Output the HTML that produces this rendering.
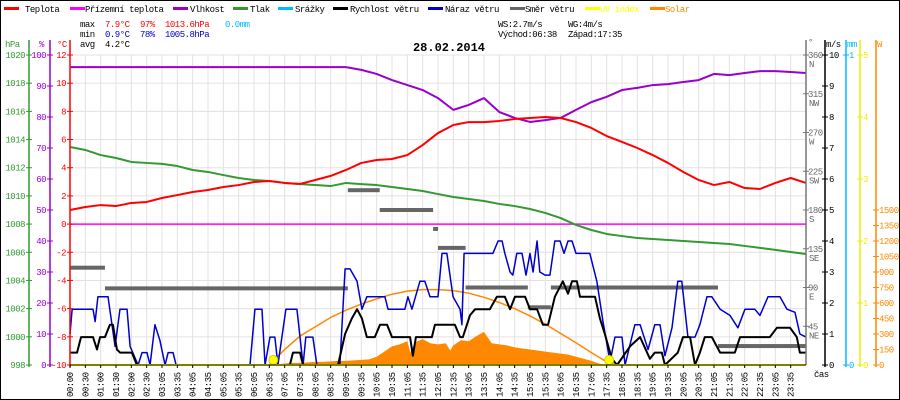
<!DOCTYPE html>
<html><head><meta charset="utf-8"><style>
html,body{margin:0;padding:0;background:#fff;}
svg{display:block;font-family:"Liberation Mono",monospace;font-size:9px;letter-spacing:-0.5px;}
</style></head><body>
<svg id="chart" width="900" height="400" viewBox="0 0 900 400" xmlns="http://www.w3.org/2000/svg">
<rect x="0.5" y="0.5" width="899" height="399" fill="#fff" stroke="#000"/>
<g id="grid"></g>
<g id="plot"></g>
<g id="axes"></g>
<g id="head">
<g>
<rect x="4" y="7" width="15" height="3" fill="#f00"/><text x="25" y="12" fill="#000">Teplota</text>
<rect x="70" y="7" width="15" height="3" fill="#f0f"/><text x="85" y="12">Přízemní teplota</text>
<rect x="173" y="7" width="15" height="3" fill="#90c"/><text x="190" y="12">Vlhkost</text>
<rect x="233" y="7" width="15" height="3" fill="#393"/><text x="250" y="12">Tlak</text>
<rect x="278" y="7" width="15" height="3" fill="#0bf"/><text x="295" y="12">Srážky</text>
<rect x="333" y="7" width="15" height="3" fill="#000"/><text x="350" y="12">Rychlost větru</text>
<rect x="428" y="7" width="15" height="3" fill="#00c"/><text x="445" y="12">Náraz větru</text>
<rect x="510" y="7" width="15" height="3" fill="#666"/><text x="525" y="12">Směr větru</text>
<rect x="585" y="7" width="15" height="3" fill="#ff0"/><text x="600" y="12" fill="#ff0">UV index</text>
<rect x="650" y="7" width="15" height="3" fill="#f80"/><text x="665" y="12" fill="#f80">Solar</text>
</g>
<g>
<text x="80" y="27">max</text><text x="105" y="27" fill="#f00">7.9°C</text><text x="140" y="27" fill="#f00">97%</text><text x="165" y="27" fill="#f00">1013.6hPa</text><text x="225" y="27" fill="#0bf">0.0mm</text>
<text x="80" y="37">min</text><text x="105" y="37" fill="#00c">0.9°C</text><text x="140" y="37" fill="#00c">78%</text><text x="165" y="37" fill="#00c">1005.8hPa</text>
<text x="80" y="47">avg</text><text x="105" y="47">4.2°C</text>
<text x="498" y="27">WS:2.7m/s</text><text x="568" y="27">WG:4m/s</text>
<text x="498" y="37">Východ:06:38</text><text x="568" y="37">Západ:17:35</text>
</g>
<text x="449" y="51" text-anchor="middle" font-weight="bold" font-size="12" style="letter-spacing:0">28.02.2014</text>
</g>
</svg>
<script>
// ---- data ----
const halfHourLabels = ["00:00","00:30","01:00","01:30","02:00","02:30","03:05","03:35","04:05","04:35","05:05","05:35","06:05","06:35","07:05","07:35","08:05","08:35","09:05","09:35","10:05","10:35","11:05","11:35","12:05","12:35","13:05","13:35","14:05","14:35","15:05","15:35","16:05","16:35","17:05","17:35","18:05","18:35","19:05","19:35","20:05","20:35","21:05","21:35","22:05","22:35","23:05","23:35"];
const tempValues = [1.0,1.21,1.35,1.28,1.5,1.57,1.85,2.06,2.28,2.42,2.63,2.77,2.99,3.06,2.92,2.85,3.13,3.42,3.84,4.34,4.55,4.62,4.9,5.61,6.46,7.03,7.24,7.24,7.32,7.46,7.53,7.6,7.53,7.24,6.82,6.25,5.83,5.4,4.9,4.34,3.7,3.13,2.77,2.99,2.56,2.49,2.92,3.27,2.92];
const feelsValues = [0,0,0,0,0,0,0,0,0,0,0,0,0,0,0,0,0,0,0,0,0,0,0,0,0,0,0,0,0,0,0,0,0,0,0,0,0,0,0,0,0,0,0,0,0,0,0,0,0];
const humidityValues = [96.1,96.1,96.1,96.1,96.1,96.1,96.1,96.1,96.1,96.1,96.1,96.1,96.1,96.1,96.1,96.1,96.1,96.1,96.1,95.2,93.9,91.9,90.3,88.7,86.1,82.3,83.9,86.1,81.6,79.7,78.4,79,79.7,82.3,84.8,86.5,88.7,89.4,90.3,90.6,91.3,91.9,93.9,93.5,94.2,94.8,94.8,94.5,94.2];
const pressureValues = [1013.47,1013.26,1012.9,1012.69,1012.41,1012.34,1012.27,1012.12,1011.84,1011.7,1011.48,1011.27,1011.13,1011.06,1010.92,1010.84,1010.77,1010.7,1010.92,1010.84,1010.77,1010.63,1010.49,1010.35,1010.13,1009.92,1009.78,1009.64,1009.43,1009.28,1009.07,1008.79,1008.43,1007.94,1007.58,1007.3,1007.15,1007.01,1006.94,1006.87,1006.8,1006.73,1006.66,1006.59,1006.45,1006.31,1006.17,1006.02,1005.88];
const gustTimes = [0,0.07,0.75,0.82,0.91,1.24,1.47,1.63,1.86,1.96,2.22,2.35,2.51,2.61,2.77,2.93,3.10,3.20,3.36,3.46,5.87,6.03,6.26,6.36,6.52,6.68,6.78,7.04,7.40,7.60,7.69,7.92,8.05,8.80,8.97,9.13,9.36,9.52,9.68,10.27,10.37,10.92,11.02,11.15,11.41,11.57,11.74,12.00,12.13,12.29,12.49,12.72,12.78,12.85,13.79,13.96,14.09,14.18,14.35,14.44,14.57,14.74,14.87,15.00,15.10,15.23,15.32,15.49,15.65,15.81,15.98,16.11,16.24,16.37,16.50,16.95,17.18,17.38,17.61,17.77,18.00,18.10,18.42,18.59,18.85,19.07,19.24,19.40,19.63,19.82,19.95,20.15,20.38,20.54,20.77,20.93,21.20,21.52,21.78,22.01,22.33,22.50,22.76,23.15,23.38,23.64,23.80,24];
const gustValues = [1.0,1.8,1.8,1.4,2.2,2.2,0.6,1.8,1.8,0.6,0,0.4,0.4,0,1.3,0.8,0,0.4,0.4,0,0,1.8,1.8,0,0.9,0.9,0,1.8,1.8,0,0.9,0.9,0,0,3.1,3.1,2.7,1.8,2.2,2.2,1.8,1.8,2.2,1.8,2.7,2.7,2.2,2.2,3.6,3.6,2.2,1.8,1.3,3.6,3.6,4.0,4.0,3.6,3.0,2.9,3.6,3.6,2.9,3.6,3.0,4.0,3.0,2.9,2.9,4.0,4.0,3.6,4.0,4.0,3.6,3.6,2.7,1.4,0.1,0.9,0.9,0,1.3,1.3,0.5,1.3,1.3,0.3,1.2,2.7,2.7,0.9,0.9,1.3,2.2,2.2,1.8,1.6,1.2,1.8,1.8,1.6,2.2,2.2,1.8,1.7,1.0,0.9];
const speedTimes = [0,0.23,0.36,0.75,0.88,0.98,1.14,1.30,1.40,1.53,1.63,2.02,2.18,7.17,7.27,7.50,7.60,8.74,8.97,9.19,9.36,9.52,9.68,9.94,10.11,10.34,10.50,11.09,11.18,11.28,11.80,11.90,12.55,12.72,12.81,12.91,13.04,13.21,13.69,13.92,14.18,14.35,14.51,14.84,15.00,15.23,15.42,15.59,15.81,16.07,16.24,16.37,16.53,16.63,17.12,17.28,17.44,17.67,17.84,18.26,18.59,18.91,19.07,19.30,19.40,19.82,19.99,20.22,20.38,20.54,20.70,20.93,21.20,21.68,21.85,22.82,23.05,23.48,23.70,23.80,24];
const speedValues = [0.4,0.4,0.9,0.9,0.5,0.9,0.9,1.3,1.3,0.5,0.4,0.4,0,0,0.4,0.4,0,0,1.0,1.5,1.8,1.5,0.9,0.9,1.3,1.3,0.9,0.9,0.3,0.9,0.9,1.3,1.3,0.9,0.9,1.2,1.6,1.8,1.8,2.2,2.2,1.8,2.2,2.2,1.8,1.8,1.3,1.3,2.2,2.7,2.3,2.7,2.7,2.2,2.2,1.5,1.0,0.2,0,0.6,0.9,0.2,0.4,0.4,0,0.4,0.9,0.9,0,0.4,0.9,0.9,0.4,0.4,0.9,0.9,1.2,1.2,0.9,0.4,0.4];
const dirStarts = [0,1.14,9.06,10.1,11.84,12.0,12.9,14.93,15.68,21.13];
const dirEnds = [1.14,9.06,10.1,11.84,12.0,12.9,14.93,15.68,21.13,24];
const dirValues = [113,89,203,180,158,136,90,67,90,22];
const solarTimes = [6.5,6.75,7.0,7.25,7.5,7.75,8.0,8.25,8.5,8.75,9.0,9.25,9.5,9.75,10.0,10.25,10.5,10.75,11.0,11.1,11.25,11.5,11.75,12.0,12.25,12.4,12.5,12.75,13.0,13.25,13.5,13.75,14.0,14.25,14.5,14.75,15.0,15.25,15.5,15.75,16.0,16.25,16.5,16.75,17.0,17.25,17.5];
const solarValues = [0,5,15,20,20,25,30,30,35,40,40,45,50,55,80,130,180,200,230,120,220,250,210,200,210,140,190,240,230,280,320,210,200,190,170,160,150,140,130,120,110,100,80,60,40,15,0];
const solarMaxTimes = [6.5,7.0,7.5,8.0,8.5,9.0,9.5,10.0,10.5,11.0,11.5,12.0,12.5,13.0,13.5,14.0,14.5,15.0,15.5,16.0,16.5,17.0,17.5,17.8];
const solarMaxValues = [0,150,280,370,460,530,590,640,685,715,730,730,720,695,655,605,545,475,395,305,215,120,30,0];
const sunEvents = [6.63,17.58];
const uvValues = [0,0];

// ---- axes functions ----
const X0=70, X1=806, YT=55, YB=365;
const xT = t => X0 + t*(X1-X0)/24;
const yTemp = v => YT + (12-v)*(YB-YT)/22;
const yHum = v => YB - v*(YB-YT)/100;
const yPres = v => YT + (1020-v)*(YB-YT)/22;
const yWind = v => YB - v*(YB-YT)/10;
const yDir = v => YB - v*(YB-YT)/360;
const ySol = v => YB - v*(YB-210)/1500;
const yUV = v => YB - v*(YB-YT)/5;
const NS="http://www.w3.org/2000/svg";
function mk(tag, attrs, parent, txt){const e=document.createElementNS(NS,tag);for(const k in attrs)e.setAttribute(k,attrs[k]);if(txt!==undefined)e.textContent=txt;parent.appendChild(e);return e;}
const grid=document.getElementById('grid'), plot=document.getElementById('plot'), axes=document.getElementById('axes');

for(let i=0;i<=48;i++){const x=xT(i/2);mk('line',{x1:x,x2:x,y1:YT,y2:YB,stroke:'#e6e0e0'},grid);}
for(let v=-10;v<=12;v+=2){const y=yTemp(v);mk('line',{x1:X0,x2:X1,y1:y,y2:y,stroke:'#e6e0e0'},grid);}

function poly(ts, vs, yf, color, w, name){
  const p=mk('polyline',{points:ts.map((t,i)=>xT(t)+','+yf(vs[i])).join(' '),fill:'none',stroke:color,'stroke-width':w,'stroke-linejoin':'round'},plot);
  
  
  return p;
}
const halfTimes = tempValues.map((_,i)=>i/2);

const sArea = mk('polygon',{points:xT(solarTimes[0])+','+YB+' '+solarTimes.map((t,i)=>xT(t)+','+ySol(solarValues[i])).join(' ')+' '+xT(solarTimes[solarTimes.length-1])+','+YB,fill:'#f80'},plot);


poly(solarMaxTimes, solarMaxValues, ySol, '#f80', 1.5, 'solar-max-line');

dirValues.forEach((d,i)=>{
  const r=mk('rect',{x:xT(dirStarts[i]),y:yDir(d)-2,width:xT(dirEnds[i])-xT(dirStarts[i]),height:4,fill:'#666'},plot);
  
  
});

poly(halfTimes, feelsValues, yTemp, '#f0f', 1.5, 'feels-like-line');
poly(halfTimes, pressureValues, yPres, '#393', 2, 'pressure-line');
poly(halfTimes, humidityValues, yHum, '#90c', 2, 'humidity-line');
poly(halfTimes, tempValues, yTemp, '#f00', 2, 'temperature-line');
poly(gustTimes, gustValues, yWind, '#00c', 1.5, 'wind-gust-line');
poly(speedTimes, speedValues, yWind, '#000', 2, 'wind-speed-line');
poly([0,24], uvValues, yUV, '#ff0', 2, 'uv-line');
sunEvents.forEach(t=>{
  const c=mk('circle',{cx:xT(t),cy:YB-5,r:4.5,fill:'#ff0',stroke:'#cc0'},plot);
  
  
});

function vaxis(x,color,ticks,yf,labelX,anchor,name){
  const g=mk('g',{},axes);
  
  
  mk('line',{x1:x,x2:x,y1:40,y2:YB+2,stroke:color,'stroke-width':1.5},g);
  ticks.forEach(v=>{const y=yf(v);mk('line',{x1:x-3,x2:x+3,y1:y,y2:y,stroke:color},g);mk('text',{x:labelX,y:y+3,fill:color,'text-anchor':anchor},g,String(v));});
  return g;
}
const presTicks=[1020,1018,1016,1014,1012,1010,1008,1006,1004,1002,1000,998];
const humTicks=[100,90,80,70,60,50,40,30,20,10,0];
const tempTicks=[12,10,8,6,4,2,0,-2,-4,-6,-8,-10];
vaxis(29,'#393',presTicks,yPres,25,'end','pressure-axis');
vaxis(50,'#90c',humTicks,yHum,46,'end','humidity-axis');
vaxis(70,'#f00',tempTicks,yTemp,66,'end','temperature-axis');
mk('text',{x:5,y:47,fill:'#393'},axes,'hPa');
mk('text',{x:39,y:47,fill:'#90c'},axes,'%');
mk('text',{x:57,y:47,fill:'#f00'},axes,'°C');

const dirTicks=[360,315,270,225,180,135,90,45];
const dirNames=['N','NW','W','SW','S','SE','E','NE'];
const dg=mk('g',{},axes);


mk('line',{x1:X1,x2:X1,y1:40,y2:YB,stroke:'#777','stroke-width':1.5},dg);
dirTicks.forEach((v,i)=>{const y=yDir(v);mk('line',{x1:X1-3,x2:X1+3,y1:y,y2:y,stroke:'#777'},dg);mk('text',{x:808,y:y+3,fill:'#666'},dg,String(v));mk('text',{x:809,y:y+12,fill:'#666'},dg,dirNames[i]);});
mk('text',{x:808,y:45,fill:'#666'},dg,'°');
const windTicks=[10,9,8,7,6,5,4,3,2,1,0];
vaxis(825,'#000',windTicks,yWind,829,'start','wind-axis');
mk('text',{x:826,y:47},axes,'m/s');
const mmTicks=[1,0];
vaxis(846,'#0bf',mmTicks,v=>YB-v*(YB-YT),849,'start','rain-axis');
mk('text',{x:847,y:47,fill:'#0bf'},axes,'mm');
const uvTicks=[5,4,3,2,1,0];
vaxis(860,'#ee0',uvTicks,yUV,863,'start','uv-axis');
const wTicks=[1500,1350,1200,1050,900,750,600,450,300,150,0];
vaxis(876,'#f80',wTicks,ySol,879,'start','solar-axis');
mk('text',{x:877,y:47,fill:'#f80'},axes,'W');
mk('line',{x1:X0,x2:X1,y1:YB,y2:YB,stroke:'#000'},axes);

halfHourLabels.forEach((l,i)=>{
  const x=xT(i/2);
  mk('line',{x1:x,x2:x,y1:YB,y2:YB+3,stroke:'#000'},axes);
  const t=mk('text',{x:0,y:0,transform:`translate(${x+3},397) rotate(-90)`},axes,l);
  
  
});
mk('text',{x:814,y:377},axes,'čas');
</script>
</body></html>
